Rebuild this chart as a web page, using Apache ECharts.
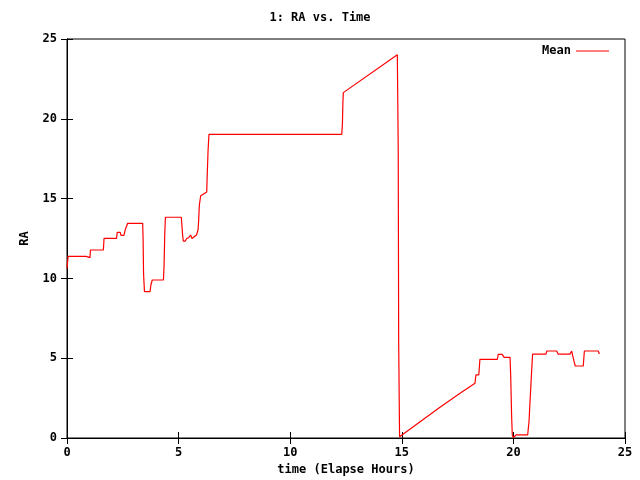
<!DOCTYPE html>
<html><head><meta charset="utf-8">
<script src="https://cdn.jsdelivr.net/npm/echarts@6/dist/echarts.min.js"></script>
<style>html,body{margin:0;padding:0;background:#fff}#c{width:640px;height:480px}</style>
</head><body><div id="c"></div>
<script>
const titleText = '1: RA vs. Time';
const seriesName = 'Mean';
const xTicks = [0, 5, 10, 15, 20, 25];
const yTicks = [0, 5, 10, 15, 20, 25];
const timeHours = [0.00,0.05,0.85,0.87,1.03,1.05,1.63,1.66,2.22,2.25,2.38,2.42,2.55,2.62,2.72,3.39,3.41,3.43,3.47,3.72,3.76,3.82,4.32,4.35,4.38,4.41,5.12,5.15,5.18,5.21,5.30,5.36,5.45,5.54,5.60,5.68,5.80,5.87,5.90,5.93,5.99,6.04,6.26,6.28,6.32,6.36,12.31,12.34,12.36,12.38,14.80,14.84,14.86,14.90,15.82,16.71,17.61,18.28,18.30,18.32,18.45,18.50,19.28,19.32,19.50,19.58,19.85,19.88,19.92,19.95,20.00,20.12,20.64,20.66,20.70,20.74,20.82,20.86,21.46,21.50,21.94,22.00,22.54,22.61,22.68,22.72,22.77,23.13,23.18,23.80,23.85];
const raHours = [10.62,11.38,11.38,11.30,11.30,11.78,11.78,12.51,12.51,12.89,12.89,12.70,12.70,13.10,13.45,13.45,12.40,10.30,9.17,9.17,9.60,9.90,9.90,10.84,12.80,13.83,13.83,13.30,12.72,12.34,12.34,12.50,12.55,12.72,12.50,12.50,12.72,13.03,13.66,14.60,15.18,15.30,15.41,16.37,18.00,19.03,19.03,19.70,20.97,21.64,24.02,18.05,6.03,0.08,1.02,1.92,2.80,3.43,3.70,3.95,3.95,4.93,4.93,5.24,5.24,5.05,5.05,3.84,1.38,0.19,0.02,0.19,0.19,0.50,1.02,2.17,4.26,5.26,5.26,5.45,5.45,5.26,5.26,5.45,5.40,4.78,4.51,4.51,5.45,5.45,5.26];

const font = 'DejaVu Sans Mono';
const pts = timeHours.map((t, i) => [t, raHours[i]]);
const xMin = xTicks[0], xMax = xTicks[xTicks.length - 1];
const yMin = yTicks[0], yMax = yTicks[yTicks.length - 1];
const baseAxis = {
  axisLine: {show: true, lineStyle: {color: '#000', width: 1}},
  axisTick: {show: true, inside: true, length: 6, lineStyle: {color: '#000'}},
  splitLine: {show: false},
};
const chart = echarts.init(document.getElementById('c'), null, {renderer: 'canvas'});
chart.setOption({
  animation: false,
  backgroundColor: '#fff',
  title: {text: titleText, left: 'center', top: 7,
    textStyle: {fontFamily: font, fontSize: 12, fontWeight: 'bold', color: '#000'}},
  legend: {show: true, top: 40, right: 26, align: 'right', itemWidth: 33, itemHeight: 10, itemGap: 6,
    textStyle: {fontFamily: font, fontSize: 12, fontWeight: 'bold', color: '#000'},
    data: [{name: seriesName, icon: 'path://M0,0 L33,0 L33,1 L0,1 Z', itemStyle: {color: '#ff0000'}}]},
  grid: {left: 67, right: 15, top: 39, bottom: 42, show: true, borderColor: '#000', borderWidth: 1,
    containLabel: false, outerBoundsMode: 'none'},
  xAxis: [
    Object.assign({}, baseAxis, {type: 'value', min: xMin, max: xMax, interval: 5, position: 'bottom',
      name: 'time (Elapse Hours)', nameLocation: 'middle', nameGap: 26,
      nameTextStyle: {fontFamily: font, fontSize: 12, fontWeight: 'bold', color: '#000'},
      axisLabel: {fontFamily: font, fontSize: 12, fontWeight: 'bold', color: '#000', margin: 9}}),
    Object.assign({}, baseAxis, {type: 'value', min: xMin, max: xMax, interval: 5, position: 'top',
      axisLabel: {show: false}})
  ],
  yAxis: [
    Object.assign({}, baseAxis, {type: 'value', min: yMin, max: yMax, interval: 5, position: 'left',
      name: 'RA', nameLocation: 'middle', nameGap: 36, nameRotate: 90,
      nameTextStyle: {fontFamily: font, fontSize: 12, fontWeight: 'bold', color: '#000'},
      axisLabel: {fontFamily: font, fontSize: 12, fontWeight: 'bold', color: '#000', margin: 10}}),
    Object.assign({}, baseAxis, {type: 'value', min: yMin, max: yMax, interval: 5, position: 'right',
      axisLabel: {show: false}})
  ],
  series: [{
    name: seriesName, type: 'line', xAxisIndex: 0, yAxisIndex: 0, data: pts,
    showSymbol: false, symbol: 'none', lineStyle: {color: '#ff0000', width: 1.2}, itemStyle: {color: '#ff0000'}
  }]
});
</script></body></html>
